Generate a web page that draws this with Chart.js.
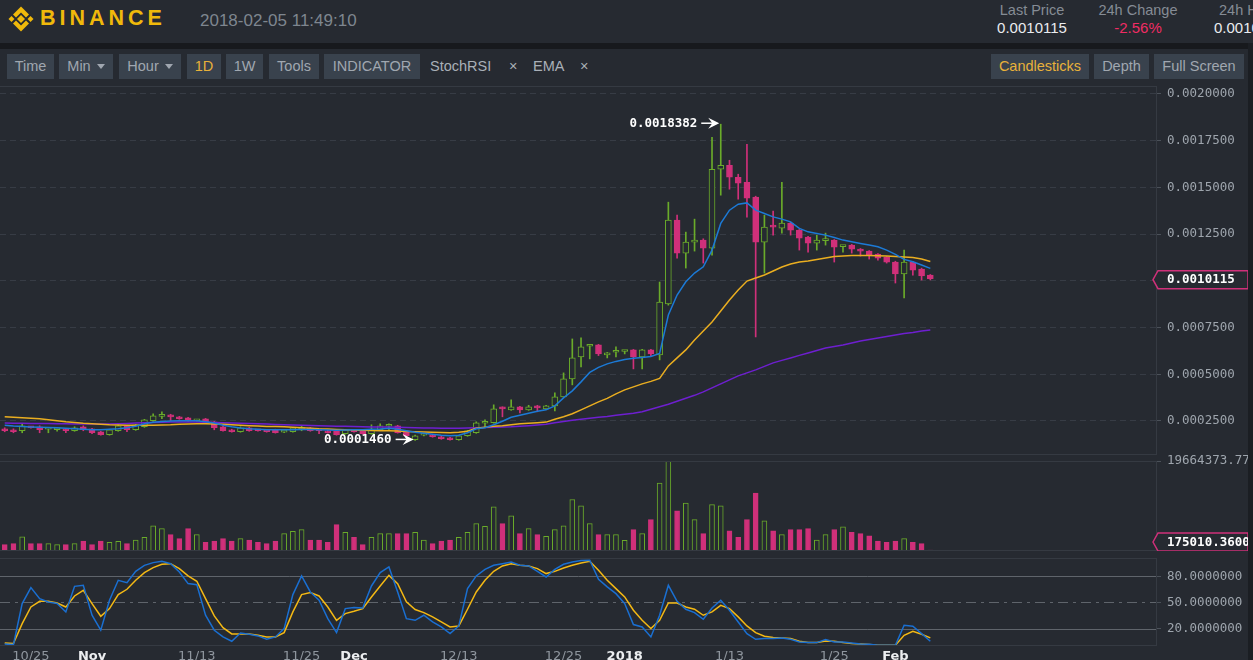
<!DOCTYPE html>
<html><head><meta charset="utf-8">
<script src="https://cdn.jsdelivr.net/npm/chart.js@4.4.0/dist/chart.umd.min.js"></script>
<style>
html,body{margin:0;padding:0;width:1253px;height:660px;overflow:hidden;background:#262a31;font-family:"Liberation Sans",Arial,sans-serif;position:relative;}
.abs{position:absolute;white-space:nowrap;}
#sep{left:0;top:43px;width:1253px;height:6px;background:#17191d;}
.btn{position:absolute;top:54px;height:25px;line-height:25px;background:#39424d;color:#a0a7b0;font-size:14.5px;text-align:center;}
.tri{display:inline-block;width:0;height:0;border-left:4px solid transparent;border-right:4px solid transparent;border-top:5px solid #a0a7b0;margin-left:6px;vertical-align:2px;}
.plain{position:absolute;top:54px;height:25px;line-height:25px;color:#a9b0b8;font-size:14.5px;}
canvas{position:absolute;left:0;}
#strip{left:1248px;top:43px;width:5px;height:617px;background:#1b1e23;z-index:5;}
</style></head>
<body>
<svg class="abs" style="left:5px;top:3px" width="32" height="32" viewBox="0 0 32 32">
  <g fill="#f0b90b">
    <polygon points="16,12 20,16 16,20 12,16"/>
    <polygon points="3.5,16 6.5,13 9.5,16 6.5,19"/>
    <polygon points="22.5,16 25.5,13 28.5,16 25.5,19"/>
    <polygon points="16,3.5 24,11.5 21,14.5 16,9.5 11,14.5 8,11.5"/>
    <polygon points="16,28.5 24,20.5 21,17.5 16,22.5 11,17.5 8,20.5"/>
  </g>
</svg>
<div class="abs" style="left:40px;top:6px;font-size:21.5px;font-weight:bold;letter-spacing:4px;color:#f0b90b;">BINANCE</div>
<div class="abs" style="left:200px;top:11px;font-size:17px;color:#7e868f;">2018-02-05 11:49:10</div>
<div class="abs" style="left:986px;top:2px;width:92px;text-align:center;font-size:14.5px;color:#858c95;">Last Price</div>
<div class="abs" style="left:986px;top:19px;width:92px;text-align:center;font-size:15px;color:#eaecef;">0.0010115</div>
<div class="abs" style="left:1090px;top:2px;width:96px;text-align:center;font-size:14.5px;color:#858c95;">24h Change</div>
<div class="abs" style="left:1090px;top:19px;width:96px;text-align:center;font-size:15px;color:#f02c64;">-2.56%</div>
<div class="abs" style="left:1219px;top:2px;font-size:14.5px;color:#858c95;">24h High</div>
<div class="abs" style="left:1214px;top:19px;font-size:15px;color:#eaecef;">0.0010</div>
<div id="sep" class="abs"></div>

<div class="btn" style="left:7px;width:47px;">Time</div>
<div class="btn" style="left:59px;width:54px;">Min<span class="tri"></span></div>
<div class="btn" style="left:119px;width:62px;">Hour<span class="tri"></span></div>
<div class="btn" style="left:187px;width:34px;color:#e8b13a;">1D</div>
<div class="btn" style="left:226px;width:37px;">1W</div>
<div class="btn" style="left:269px;width:50px;">Tools</div>
<div class="btn" style="left:324px;width:96px;">INDICATOR</div>
<div class="plain" style="left:430px;">StochRSI</div>
<div class="plain" style="left:509px;">×</div>
<div class="plain" style="left:533px;">EMA</div>
<div class="plain" style="left:580px;">×</div>
<div class="btn" style="left:991px;width:98px;color:#e8b13a;">Candlesticks</div>
<div class="btn" style="left:1094px;width:55px;">Depth</div>
<div class="btn" style="left:1154px;width:90px;">Full Screen</div>

<canvas id="price" width="1253" height="369" style="top:86px"></canvas>
<canvas id="volume" width="1253" height="96" style="top:455px"></canvas>
<canvas id="stoch" width="1253" height="108" style="top:552px"></canvas>
<div id="strip" class="abs"></div>

<script>
// ---------- DATA (daily BTC pair, 2017-10-22 .. 2018-02-05) ----------
const open = [2083e-7,2030e-7,1977e-7,2190e-7,2190e-7,2060e-7,2030e-7,2083e-7,1977e-7,2190e-7,
2083e-7,1923e-7,1763e-7,1977e-7,2244e-7,2030e-7,2190e-7,2511e-7,2750e-7,2831e-7,
2724e-7,2671e-7,2511e-7,2618e-7,2457e-7,2190e-7,2030e-7,1923e-7,2137e-7,1990e-7,
1935e-7,2030e-7,1900e-7,1923e-7,2070e-7,2137e-7,1990e-7,1977e-7,1977e-7,1816e-7,
2030e-7,1977e-7,1816e-7,2030e-7,2220e-7,2244e-7,1977e-7,1496e-7,1740e-7,1763e-7,
1656e-7,1603e-7,1496e-7,1709e-7,1870e-7,2380e-7,2404e-7,3170e-7,3098e-7,3259e-7,
3098e-7,3312e-7,3152e-7,3312e-7,3793e-7,4754e-7,5930e-7,6500e-7,6571e-7,6036e-7,
6180e-7,6220e-7,6304e-7,5930e-7,6304e-7,6036e-7,8761e-7,13248e-7,11485e-7,12073e-7,
12180e-7,11752e-7,15973e-7,16186e-7,15545e-7,15278e-7,14477e-7,12073e-7,12900e-7,12821e-7,
13088e-7,12714e-7,12340e-7,12020e-7,12150e-7,12180e-7,11830e-7,11913e-7,11699e-7,11592e-7,
11432e-7,11272e-7,11005e-7,10364e-7,11005e-7,10631e-7,10310e-7];
const high = [2137e-7,2083e-7,2350e-7,2220e-7,2244e-7,2090e-7,2083e-7,2110e-7,2190e-7,2244e-7,
2110e-7,1950e-7,2060e-7,2300e-7,2270e-7,2320e-7,2590e-7,2885e-7,2992e-7,2860e-7,
2750e-7,2700e-7,2580e-7,2640e-7,2480e-7,2220e-7,2060e-7,2190e-7,2160e-7,2010e-7,
1950e-7,2060e-7,1950e-7,2160e-7,2244e-7,2160e-7,2010e-7,2000e-7,2000e-7,2050e-7,
2060e-7,2000e-7,2297e-7,2350e-7,2350e-7,2270e-7,2000e-7,1740e-7,1790e-7,1790e-7,
1680e-7,1630e-7,1740e-7,2000e-7,2457e-7,2564e-7,3365e-7,3259e-7,3632e-7,3290e-7,
3340e-7,3340e-7,3340e-7,4006e-7,5075e-7,6891e-7,6945e-7,6571e-7,6600e-7,6170e-7,
6464e-7,6250e-7,6330e-7,6330e-7,6330e-7,9936e-7,14210e-7,13515e-7,12607e-7,13302e-7,
12250e-7,17682e-7,18382e-7,16453e-7,15706e-7,17308e-7,14530e-7,13515e-7,13729e-7,15278e-7,
13140e-7,12750e-7,12380e-7,12447e-7,12554e-7,12210e-7,11890e-7,11950e-7,11730e-7,11620e-7,
11460e-7,11300e-7,11050e-7,11646e-7,11050e-7,10680e-7,10340e-7];
const low = [1923e-7,1870e-7,1870e-7,2110e-7,1870e-7,1870e-7,1950e-7,1870e-7,1950e-7,1977e-7,
1816e-7,1740e-7,1740e-7,1950e-7,1923e-7,2000e-7,2160e-7,2480e-7,2618e-7,2511e-7,
2590e-7,2480e-7,2480e-7,2380e-7,2030e-7,1950e-7,1900e-7,1900e-7,1950e-7,1950e-7,
1900e-7,1850e-7,1870e-7,1900e-7,1977e-7,1950e-7,1816e-7,1850e-7,1740e-7,1790e-7,
1900e-7,1790e-7,1790e-7,2000e-7,2030e-7,1850e-7,1680e-7,1460e-7,1700e-7,1630e-7,
1520e-7,1480e-7,1470e-7,1680e-7,1840e-7,2190e-7,2380e-7,2724e-7,3070e-7,2938e-7,
3070e-7,2992e-7,3120e-7,3045e-7,3760e-7,4434e-7,5395e-7,5823e-7,6000e-7,5876e-7,
5930e-7,6090e-7,5288e-7,5288e-7,5980e-7,5770e-7,8700e-7,11218e-7,10684e-7,11592e-7,
10951e-7,11378e-7,14584e-7,14904e-7,14370e-7,13409e-7,6998e-7,10417e-7,12447e-7,12554e-7,
12447e-7,11646e-7,11540e-7,11646e-7,11913e-7,11005e-7,11540e-7,11485e-7,11325e-7,11165e-7,
11111e-7,10950e-7,9883e-7,9081e-7,10310e-7,10043e-7,10050e-7];
const close = [1977e-7,1923e-7,2244e-7,2137e-7,2030e-7,2083e-7,2070e-7,1977e-7,2137e-7,2030e-7,
1870e-7,1763e-7,2030e-7,2244e-7,2030e-7,2297e-7,2564e-7,2778e-7,2778e-7,2724e-7,
2618e-7,2511e-7,2564e-7,2404e-7,2137e-7,1977e-7,1923e-7,2137e-7,1977e-7,1977e-7,
1923e-7,1870e-7,1923e-7,2137e-7,2083e-7,1977e-7,1977e-7,1870e-7,1763e-7,2030e-7,
1923e-7,1816e-7,2030e-7,2244e-7,2244e-7,1870e-7,1709e-7,1709e-7,1763e-7,1656e-7,
1549e-7,1496e-7,1709e-7,1977e-7,2404e-7,2404e-7,3152e-7,3152e-7,3259e-7,3098e-7,
3259e-7,3205e-7,3312e-7,3793e-7,4754e-7,5876e-7,6464e-7,6571e-7,6090e-7,6143e-7,
6197e-7,6250e-7,5930e-7,6304e-7,6090e-7,8868e-7,13248e-7,11485e-7,12073e-7,12126e-7,
11752e-7,15973e-7,16186e-7,15545e-7,15225e-7,14423e-7,12073e-7,12874e-7,12874e-7,13088e-7,
12714e-7,12287e-7,12020e-7,12180e-7,12180e-7,11806e-7,11859e-7,11699e-7,11592e-7,11378e-7,
11218e-7,11005e-7,10364e-7,11005e-7,10577e-7,10257e-7,10115e-7];
const emaFast = [2270e-7,2228e-7,2201e-7,2180e-7,2164e-7,2147e-7,2137e-7,2110e-7,2083e-7,2057e-7,
2030e-7,2030e-7,2057e-7,2083e-7,2137e-7,2217e-7,2350e-7,2431e-7,2473e-7,2495e-7,
2511e-7,2511e-7,2511e-7,2457e-7,2388e-7,2270e-7,2190e-7,2121e-7,2083e-7,2057e-7,
2030e-7,2030e-7,2030e-7,2030e-7,2046e-7,2046e-7,2030e-7,2014e-7,2003e-7,2014e-7,
2030e-7,2030e-7,2057e-7,2067e-7,2110e-7,2057e-7,1977e-7,1896e-7,1843e-7,1790e-7,
1736e-7,1709e-7,1736e-7,1870e-7,2083e-7,2137e-7,2297e-7,2484e-7,2698e-7,2805e-7,
2911e-7,3018e-7,3098e-7,3312e-7,3739e-7,4113e-7,4594e-7,5102e-7,5369e-7,5556e-7,
5689e-7,5796e-7,5860e-7,5903e-7,5956e-7,6117e-7,8173e-7,9242e-7,9952e-7,10417e-7,
10753e-7,11646e-7,13072e-7,13782e-7,14103e-7,14172e-7,13782e-7,13606e-7,13424e-7,13302e-7,
13157e-7,12805e-7,12623e-7,12538e-7,12447e-7,12324e-7,12180e-7,12089e-7,12003e-7,11913e-7,
11822e-7,11646e-7,11416e-7,11149e-7,11021e-7,10844e-7,10668e-7];
const emaMid = [2724e-7,2698e-7,2671e-7,2644e-7,2618e-7,2564e-7,2511e-7,2457e-7,2420e-7,2377e-7,
2350e-7,2324e-7,2297e-7,2281e-7,2270e-7,2270e-7,2270e-7,2270e-7,2281e-7,2297e-7,
2324e-7,2334e-7,2350e-7,2350e-7,2340e-7,2324e-7,2297e-7,2270e-7,2244e-7,2228e-7,
2206e-7,2206e-7,2190e-7,2164e-7,2137e-7,2110e-7,2083e-7,2067e-7,2046e-7,2030e-7,
2014e-7,2003e-7,1993e-7,1977e-7,1977e-7,1961e-7,1939e-7,1923e-7,1907e-7,1896e-7,
1886e-7,1870e-7,1896e-7,1950e-7,2110e-7,2164e-7,2217e-7,2244e-7,2297e-7,2350e-7,
2377e-7,2404e-7,2441e-7,2591e-7,2724e-7,2885e-7,3098e-7,3312e-7,3526e-7,3713e-7,
3953e-7,4167e-7,4327e-7,4487e-7,4621e-7,4781e-7,5449e-7,5876e-7,6304e-7,6838e-7,
7319e-7,7799e-7,8387e-7,8975e-7,9509e-7,9990e-7,10150e-7,10310e-7,10524e-7,10737e-7,
10898e-7,11005e-7,11058e-7,11138e-7,11218e-7,11298e-7,11325e-7,11352e-7,11352e-7,11352e-7,
11341e-7,11325e-7,11298e-7,11272e-7,11245e-7,11165e-7,11031e-7];
const emaSlow = [2388e-7,2383e-7,2377e-7,2372e-7,2367e-7,2361e-7,2356e-7,2350e-7,2345e-7,2340e-7,
2334e-7,2334e-7,2340e-7,2350e-7,2367e-7,2388e-7,2404e-7,2420e-7,2431e-7,2441e-7,
2441e-7,2441e-7,2441e-7,2431e-7,2415e-7,2404e-7,2388e-7,2377e-7,2361e-7,2350e-7,
2334e-7,2318e-7,2302e-7,2286e-7,2270e-7,2260e-7,2244e-7,2233e-7,2222e-7,2212e-7,
2201e-7,2190e-7,2185e-7,2180e-7,2174e-7,2164e-7,2153e-7,2142e-7,2131e-7,2121e-7,
2115e-7,2110e-7,2115e-7,2126e-7,2137e-7,2147e-7,2164e-7,2174e-7,2190e-7,2217e-7,
2244e-7,2281e-7,2324e-7,2404e-7,2473e-7,2537e-7,2591e-7,2644e-7,2698e-7,2740e-7,
2805e-7,2858e-7,2911e-7,2992e-7,3125e-7,3259e-7,3392e-7,3552e-7,3713e-7,3873e-7,
4060e-7,4274e-7,4487e-7,4701e-7,4915e-7,5075e-7,5235e-7,5422e-7,5609e-7,5743e-7,
5876e-7,6010e-7,6143e-7,6277e-7,6410e-7,6490e-7,6571e-7,6678e-7,6784e-7,6864e-7,
6945e-7,7025e-7,7105e-7,7185e-7,7239e-7,7319e-7,7372e-7];
const volume = [1381000,1600000,3069000,1600000,1600000,1600000,1381000,1381000,1600000,2192000,
1381000,2192000,1907000,2126000,1600000,2411000,3003000,5481000,4889000,3573000,
2696000,4889000,3573000,1907000,2192000,2696000,2192000,2696000,2411000,1907000,
1600000,2192000,3793000,4319000,4669000,2411000,2411000,1907000,5766000,4099000,
3003000,1381000,3003000,3793000,3793000,3793000,3793000,4099000,2411000,1600000,
2192000,2411000,3003000,4099000,5985000,5415000,9646000,5985000,7673000,3793000,
4889000,3573000,3223000,4669000,5481000,11246000,9865000,5985000,3573000,3573000,
3573000,2346000,4669000,3793000,6862000,14841000,19664373.77,8769000,10457000,6862000,
3793000,10150000,9865000,4384000,3003000,6862000,12649000,6577000,4384000,3573000,
4669000,4669000,4889000,2411000,3573000,4669000,5261000,4099000,3793000,3288000,
2192000,1907000,2192000,2696000,1907000,1600000,175010.36];
const stochK = [2.4,1.6,48.7,67,54.4,50.6,48.7,39.1,68.5,69.7,
35.3,18.1,52.5,75.4,72.7,85.7,92.6,95.7,97.2,94.5,
85,71.6,70.4,35.3,18.1,10.4,5.4,15,13.5,11.6,
7.7,10.4,20,59,80.4,62,52.5,31.4,15.4,42.9,
44.1,43.7,68.9,84.2,90.7,62,31.4,29.5,35.3,27.6,
21.9,14.2,23,65.9,80.4,88,92.6,94.5,96.4,92.6,
91.9,85.7,79.2,88,93.8,96.4,98,98.4,76.6,67.8,
60.1,48.7,24.6,21.9,10.4,35.3,69.7,51.3,42.2,38.3,
30.7,43.7,52.5,41,27.6,14.2,7.7,8.5,8.5,9.3,
7.7,4.7,3.9,3.9,7.4,4.7,4.7,3.5,2.4,2,
0.9,0.9,0.9,23.8,22.7,14.2,5.4];
const stochD = [3.5,2.8,25.7,44.8,51.3,51.3,49.4,44.8,57.4,63.9,
48.7,34.1,42.9,59,65.1,75.4,84.2,89.9,93.8,94.5,
88.8,80.4,74.3,54.4,34.5,21.1,13.9,13.9,13.9,12.3,
10.4,10.4,15.4,39.1,59,61.3,57.4,44.8,29.5,37.2,
39.9,42.9,56.3,68.9,81.1,71.6,50.6,41.8,38.3,33.4,
27.6,21.9,23,42.2,62,75.4,85.7,91.9,94.5,92.6,
91.9,88.8,83.1,85.7,89.6,92.6,95.3,97.2,86.9,75.4,
65.9,56.3,41,29.5,20,29.5,49.4,49.4,44.8,42.2,
35.3,39.1,46.7,42.9,33.4,23,15.4,11.2,9.7,9.3,
8.5,5.4,3.9,3.9,5.8,5.4,3.9,2.8,2.4,1.6,
0.9,0.9,0.9,12.3,16.9,13.5,9.3];
const xTickIndex  = [3,10,22,34,40,52,64,71,83,95,102];
const xTickLabels = ['10/25','Nov','11/13','11/25','Dec','12/13','12/25','2018','1/13','1/25','Feb'];
const xTickMajor  = ['Nov','Dec','2018','Feb'];
const priceTicks  = [0.00025,0.0005,0.00075,0.001,0.00125,0.0015,0.00175,0.002];
const stochTicks  = [20,50,80];
const volumeMax   = 19664373.77;
const lastPrice   = 0.0010115;
const lastVolume  = 175010.36;
const highMark = {index:82, value:0.0018382};
const lowMark  = {index:47, value:0.0001460};

// ---------- STYLE ----------
const BG='#262a31', GREEN='#6aab2a', PINK='#d0307a', BLUE='#1c7ad6', YELLOW='#eaae20', PURPLE='#6e1fd0';
const K_BLUE='#1a6fd1', D_YELLOW='#f4b914';
const FRAME='#353a42', GRID='#373c45', AXIS_TXT='#9ea5ad', TICK='#4b5159';
const MONO='"DejaVu Sans Mono", monospace', SANS='"DejaVu Sans", sans-serif';
const AX_FONT = {family:MONO, size:12.5};
const X_MIN=-0.54, X_MAX=131.96;

const days = open.map((v,i)=>i);
const isUp = days.map(i=>close[i]>=open[i]);
const pts = arr => arr.map((v,i)=>({x:i,y:v}));

const frame = {id:'frame', afterDraw(c){
  const a=c.chartArea, ctx=c.ctx; ctx.save(); ctx.strokeStyle=FRAME; ctx.lineWidth=1;
  ctx.strokeRect(Math.round(a.left)-0.5, Math.round(a.top)+0.5, Math.round(a.right-a.left), Math.round(a.bottom-a.top)-1);
  ctx.restore();}};

function tagBox(ctx, x0, y, text){
  ctx.beginPath();
  ctx.moveTo(x0-4, y); ctx.lineTo(x0+1, y-9); ctx.lineTo(1248, y-9); ctx.lineTo(1248, y+9); ctx.lineTo(x0+1, y+9); ctx.closePath();
  ctx.fillStyle=BG; ctx.fill(); ctx.strokeStyle=PINK; ctx.lineWidth=1.5; ctx.stroke();
  ctx.fillStyle='#ffffff'; ctx.font='bold 12.5px '+MONO; ctx.textAlign='left'; ctx.textBaseline='middle';
  ctx.fillText(text, 1167, y+0.5);
}

const priceMarks = {id:'priceMarks', afterDraw(c){
  const ctx=c.ctx, xs=c.scales.x, ys=c.scales.y;
  ctx.save();
  [highMark, lowMark].forEach(m=>{
    const px = xs.getPixelForValue(m.index)-1.5, py = ys.getPixelForValue(m.value)-1;
    ctx.strokeStyle='#ffffff'; ctx.fillStyle='#ffffff'; ctx.lineWidth=1.5;
    ctx.beginPath(); ctx.moveTo(px-18, py); ctx.lineTo(px-6, py); ctx.stroke();
    ctx.beginPath(); ctx.moveTo(px, py); ctx.lineTo(px-11, py-5.5); ctx.lineTo(px-7, py); ctx.lineTo(px-11, py+5.5); ctx.closePath(); ctx.fill();
    ctx.font='bold 12.5px '+MONO; ctx.textAlign='right'; ctx.textBaseline='middle';
    ctx.fillText(m.value.toFixed(7), px-22, py+0.5);
  });
  tagBox(ctx, c.chartArea.right, ys.getPixelForValue(lastPrice)+1, lastPrice.toFixed(7));
  ctx.restore();}};

const volMark = {id:'volMark', afterDraw(c){
  const ctx=c.ctx, ys=c.scales.y; ctx.save();
  const y = Math.min(ys.getPixelForValue(lastVolume), c.chartArea.bottom-9);
  tagBox(ctx, c.chartArea.right, y, lastVolume.toFixed(4));
  ctx.restore();}};

const stochLines = {id:'stochLines', beforeDatasetsDraw(c){
  const ys=c.scales.y, a=c.chartArea, ctx=c.ctx; ctx.save(); ctx.strokeStyle='#5f646b'; ctx.lineWidth=1;
  stochTicks.forEach(v=>{
    const y=Math.round(ys.getPixelForValue(v))+0.5;
    ctx.setLineDash(v===50?[10,5,3,5]:[]);
    ctx.beginPath(); ctx.moveTo(a.left,y); ctx.lineTo(a.right,y); ctx.stroke();
  });
  ctx.restore();}};

const baseOpts = () => ({animation:false, responsive:false, events:[],
  plugins:{legend:{display:false}, tooltip:{enabled:false}}});
const hiddenX = {type:'linear', min:X_MIN, max:X_MAX, offset:false, display:false};
// fixed-width right axis; no extra label padding above/below the plot area
const fitRight = s => { s.width = 96; s.paddingTop = 0; s.paddingBottom = 0; };
const rightY = (extra) => Object.assign({type:'linear', position:'right',
  afterFit:fitRight,
  grid:{drawOnChartArea:false, drawTicks:true, tickLength:4, tickColor:TICK, color:GRID},
  border:{display:false},
  ticks:{color:AXIS_TXT, font:AX_FONT, padding:6}}, extra);

// ---------- PRICE ----------
new Chart(document.getElementById('price'), {
  type:'bar',
  data:{datasets:[
    {type:'line', data:pts(emaFast), borderColor:BLUE, borderWidth:1.5, pointRadius:0, order:0},
    {type:'line', data:pts(emaMid), borderColor:YELLOW, borderWidth:1.5, pointRadius:0, order:0},
    {type:'line', data:pts(emaSlow), borderColor:PURPLE, borderWidth:1.5, pointRadius:0, order:0},
    {data:days.map(i=>({x:i, y:[open[i], close[i]]})), backgroundColor:isUp.map(u=>u?BG:PINK),
     borderColor:isUp.map(u=>u?GREEN:PINK), borderWidth:1, borderSkipped:false, barThickness:6, grouped:false, minBarLength:2, order:1},
    {data:days.map(i=>({x:i, y:[low[i], high[i]]})), backgroundColor:isUp.map(u=>u?GREEN:PINK),
     borderWidth:0, barThickness:1, grouped:false, order:2}
  ]},
  options:Object.assign(baseOpts(), {
    layout:{padding:0},
    scales:{
      x:hiddenX,
      y:rightY({min:0.000068, max:0.0020427,
        afterBuildTicks(s){s.ticks=priceTicks.map(v=>({value:v}));},
        grid:{drawOnChartArea:true, color:GRID, drawTicks:true, tickLength:4, tickColor:TICK},
        border:{display:false, dash:[6,4]},
        ticks:{color:AXIS_TXT, font:AX_FONT, padding:6, callback:v=>Number(v).toFixed(7)}})
    }
  }),
  plugins:[frame, priceMarks]
});

// ---------- VOLUME ----------
new Chart(document.getElementById('volume'), {
  type:'bar',
  data:{datasets:[
    {data:days.map(i=>({x:i, y:volume[i]})), backgroundColor:isUp.map(u=>u?BG:PINK),
     borderColor:isUp.map(u=>u?GREEN:PINK), borderWidth:1, borderSkipped:false, barThickness:5, grouped:false}
  ]},
  options:Object.assign(baseOpts(), {
    layout:{padding:{top:6,left:0,right:0,bottom:0}},
    scales:{
      x:hiddenX,
      y:rightY({min:0, max:volumeMax,
        afterBuildTicks(s){s.ticks=[{value:volumeMax}];},
        ticks:{color:AXIS_TXT, font:AX_FONT, padding:6, callback:v=>Number(v).toFixed(2)}})
    }
  }),
  plugins:[frame, volMark]
});

// ---------- STOCH RSI ----------
new Chart(document.getElementById('stoch'), {
  type:'line',
  data:{datasets:[
    {data:pts(stochK), borderColor:K_BLUE, borderWidth:1.5, pointRadius:0},
    {data:pts(stochD), borderColor:D_YELLOW, borderWidth:1.5, pointRadius:0}
  ]},
  options:Object.assign(baseOpts(), {
    layout:{padding:{top:6,left:0,right:0,bottom:0}},
    scales:{
      x:{type:'linear', min:X_MIN, max:X_MAX, offset:false,
        afterFit(s){s.height=14; s.paddingLeft=0; s.paddingRight=0;},
        afterBuildTicks(s){s.ticks=xTickIndex.map(v=>({value:v}));},
        grid:{display:false, drawTicks:false}, border:{display:false},
        ticks:{autoSkip:false, maxRotation:0, minRotation:0, padding:3,
          callback:(v,i)=>xTickLabels[i],
          color:c=>xTickMajor.includes(xTickLabels[c.index])?'#eceef0':'#8f969e',
          font:c=>xTickMajor.includes(xTickLabels[c.index])?{family:SANS,size:13,weight:'bold'}:{family:SANS,size:13}}},
      y:rightY({min:0, max:101,
        afterBuildTicks(s){s.ticks=stochTicks.map(v=>({value:v}));},
        ticks:{color:AXIS_TXT, font:AX_FONT, padding:6, callback:v=>Number(v).toFixed(7)}})
    }
  }),
  plugins:[frame, stochLines]
});
</script>
</body></html>
